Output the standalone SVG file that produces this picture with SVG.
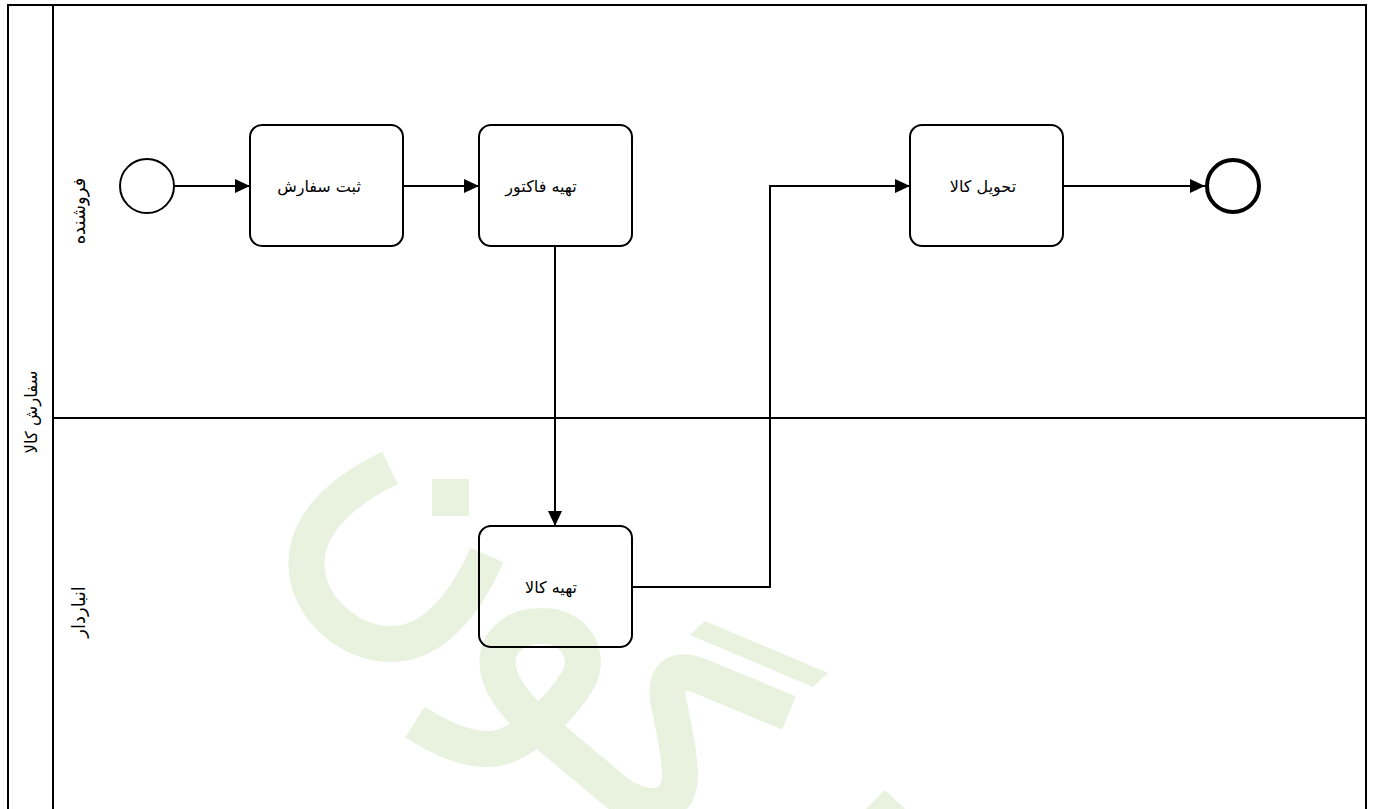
<svg xmlns="http://www.w3.org/2000/svg" width="1373" height="809" viewBox="0 0 1373 809">
<style>
.wm{fill:#e8f2de;stroke:none}
.wms{fill:none;stroke:#e8f2de;stroke-width:36;stroke-linecap:butt;stroke-linejoin:round}
.pool{fill:none;stroke:#000;stroke-width:2}
.task{fill:none;stroke:#000;stroke-width:2}
.conn{fill:none;stroke:#000;stroke-width:2}
.lbl{font-family:"DejaVu Sans","Noto Sans",sans-serif;font-size:16px;fill:#000;text-anchor:middle}
.pl{font-size:16.5px}
.lane{font-size:18px}
</style>
<defs>
<marker id="arrow" viewBox="0 0 15 14" refX="15" refY="7" markerWidth="15" markerHeight="14" markerUnits="userSpaceOnUse" orient="auto">
<path d="M0,0 L15,7 L0,14 z" fill="#000"/>
</marker>
</defs>
<rect width="1373" height="809" fill="#fff"/>
<g id="watermark">
<path class="wms" d="M390,468 C335,494 302,530 307,572 C312,612 352,645 393,644 C433,643 465,605 487,555"/>
<rect class="wm" x="432" y="479" width="37" height="37"/>
<path class="wms" d="M415,722 C440,738 465,750 490,749 C520,748 560,710 578,680 C592,655 575,625 541,626 C512,626 494,645 498,668 C502,695 530,720 560,745 L615,791 C640,812 680,815 680,775 C679,745 672,720 668,700 Q664,662 700,676 L789,713"/>
<polygon class="wm" points="705,621 828,673 813,687 690,635"/>
<polygon class="wm" points="866,809 885,790 905,809"/>
</g>
<g id="pool">
<rect class="pool" x="8" y="5" width="1358" height="830"/>
<line class="pool" x1="53" y1="5" x2="53" y2="835"/>
<line class="pool" x1="53" y1="418" x2="1366" y2="418"/>
<text class="lbl pl" transform="translate(31,412) rotate(-90)" x="0" y="6">سفارش کالا</text>
</g>
<g id="lane-seller">
<text class="lbl lane" transform="translate(79,211) rotate(-90)" x="0" y="6">فروشنده</text>
</g>
<g id="lane-warehouse">
<text class="lbl lane" transform="translate(79,612) rotate(-90)" x="0" y="6">انباردار</text>
</g>
<g id="connectors">
<path class="conn" d="M175,186 L250,186" marker-end="url(#arrow)"/>
<path class="conn" d="M403,186 L479,186" marker-end="url(#arrow)"/>
<path class="conn" d="M555,246 L555,526" marker-end="url(#arrow)"/>
<path class="conn" d="M632,587 L770,587 L770,186 L910,186" marker-end="url(#arrow)"/>
<path class="conn" d="M1063,186 L1205,186" marker-end="url(#arrow)"/>
</g>
<g id="start-event">
<circle cx="147" cy="186" r="27" fill="none" stroke="#000" stroke-width="2"/>
</g>
<g id="task-register-order">
<rect class="task" x="250" y="125" width="153" height="121" rx="12"/>
<text class="lbl" x="319" y="192">ثبت سفارش</text>
</g>
<g id="task-invoice">
<rect class="task" x="479" y="125" width="153" height="121" rx="12"/>
<text class="lbl" x="541" y="192">تهیه فاکتور</text>
</g>
<g id="task-deliver">
<rect class="task" x="910" y="125" width="153" height="121" rx="12"/>
<text class="lbl" x="983" y="192">تحویل کالا</text>
</g>
<g id="task-prepare-goods">
<rect class="task" x="479" y="526" width="153" height="121" rx="12"/>
<text class="lbl" x="551" y="593">تهیه کالا</text>
</g>
<g id="end-event">
<circle cx="1233" cy="186" r="26" fill="none" stroke="#000" stroke-width="4"/>
</g>
</svg>
